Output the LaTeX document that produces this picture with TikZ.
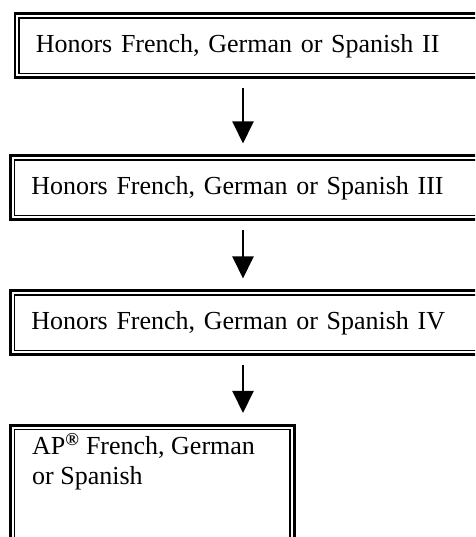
\documentclass[tikz,border=0pt]{standalone}
\usepackage{fontspec}
\setmainfont{Liberation Serif}
\usetikzlibrary{arrows.meta,positioning}

\tikzset{
  coursefont/.style={font=\fontsize{26}{30}\selectfont},
  langbox/.style={draw, line width=2.6pt, anchor=north west,
    minimum height=64pt, text width=440pt, inner xsep=21pt,
    align=left, coursefont},
  apframe/.style={draw, line width=2.6pt, anchor=north west,
    minimum width=284pt, minimum height=140pt, inner sep=0pt},
  innerline/.style={line width=1.5pt},
  nextarrow/.style={line width=2pt, shorten <=9pt, shorten >=11pt,
    -{Triangle[width=21pt,length=22pt]}}
}

\begin{document}
\begin{tikzpicture}[x=1pt,y=1pt]
    \useasboundingbox (0,0) rectangle (475,537);
    \clip (0,0) rectangle (475,537);

    % Honors courses (boxes run off the right edge)
    \node [langbox] (hon2) at (13.5,524.5) {Honors French, German or Spanish II};
    \node [langbox] (hon3) at (9,382.5) {Honors French, German or Spanish III};
    \node [langbox] (hon4) at (9,247.5) {Honors French, German or Spanish IV};

    % AP course
    \node [apframe] (apbox) at (9,113) {};
    \node [coursefont, align=left, anchor=base west, inner sep=0pt]
        (ap) at ([shift={(23pt,-61pt)}]apbox.north west)
        {AP\textsuperscript{\textbf{\textregistered}} French, German\\or Spanish};

    % thin inner line of each double frame
    \foreach \b in {hon2,hon3,hon4,apbox}
        \draw [innerline] ([shift={(5.5pt,-5.5pt)}]\b.north west)
            rectangle ([shift={(-5.5pt,5.5pt)}]\b.south east);

    % arrows
    \coordinate (ax) at (243,0);
    \foreach \a/\b in {hon2/hon3,hon3/hon4,hon4/apbox}
        \draw [nextarrow] (\a.south -| ax) -- (\b.north -| ax);
\end{tikzpicture}
\end{document}
